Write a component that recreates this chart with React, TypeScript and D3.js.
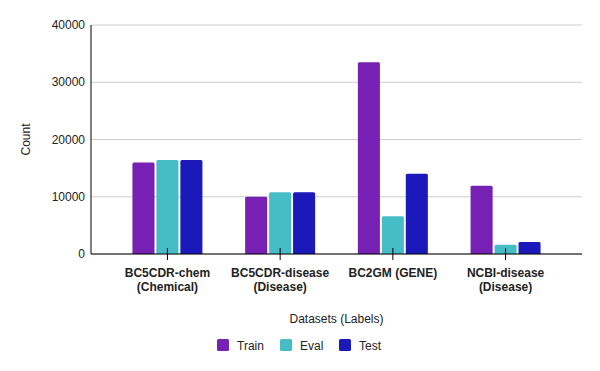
import * as d3 from 'd3';

const categories = [
  ['BC5CDR-chem', '(Chemical)'],
  ['BC5CDR-disease', '(Disease)'],
  ['BC2GM (GENE)'],
  ['NCBI-disease', '(Disease)'],
];
const seriesNames = ['Train', 'Eval', 'Test'];
const trainValues = [16000, 10000, 33500, 11900];
const evalValues = [16400, 10800, 6600, 1600];
const testValues = [16400, 10800, 14000, 2100];
const yTicks = [0, 10000, 20000, 30000, 40000];
const colors = ['#7620b4', '#46bdc6', '#1b19b9'];

const width = 600;
const height = 371;
const margin = { top: 25, right: 18, bottom: 117, left: 91 };

export default function App() {
  const series = [trainValues, evalValues, testValues];
  const keys = categories.map((c) => c.join(' '));

  const x = d3.scaleBand()
    .domain(keys)
    .range([margin.left, width - margin.right])
    .paddingInner(0)
    .paddingOuter(0.178);
  const inner = d3.scaleBand()
    .domain(seriesNames)
    .range([0, 70])
    .paddingInner(0.08);
  const y = d3.scaleLinear()
    .domain([0, 40000])
    .range([height - margin.bottom, margin.top]);

  const groupOffset = (x.bandwidth() - 70) / 2;
  const font = 'Arial, "Liberation Sans", sans-serif';
  const baseY = y(0);

  // top-rounded bar path
  const barPath = (x0: number, w: number, top: number) => {
    const r = 1.5;
    return `M${x0},${baseY}V${top + r}Q${x0},${top} ${x0 + r},${top}H${x0 + w - r}Q${x0 + w},${top} ${x0 + w},${top + r}V${baseY}Z`;
  };

  const legendItems = [
    { name: 'Train', x: 217 },
    { name: 'Eval', x: 280 },
    { name: 'Test', x: 339 },
  ];

  return (
    <svg width={width} height={height} style={{ position: 'absolute', left: 0, top: 0, background: '#fff' }} fontFamily={font}>
      {/* gridlines */}
      {yTicks.map((t) => (
        <line key={t} x1={margin.left} x2={width - margin.right} y1={y(t)} y2={y(t)} stroke="#cccccc" strokeWidth={1} />
      ))}
      {yTicks.map((t) => (
        <text key={'l' + t} x={margin.left - 6} y={y(t)} dy="0.35em" textAnchor="end" fontSize={12} fill="#222">
          {t}
        </text>
      ))}

      {/* bars */}
      {keys.map((k, i) => (
        <g key={k}>
          {seriesNames.map((s, j) => {
            const bx = (x(k) as number) + groupOffset + (inner(s) as number);
            return (
              <path key={s} d={barPath(bx, inner.bandwidth(), y(series[j][i]))} fill={colors[j]} />
            );
          })}
        </g>
      ))}

      {/* axes */}
      <line x1={margin.left} x2={margin.left} y1={margin.top} y2={baseY} stroke="#000" strokeWidth={1} />
      <line x1={margin.left} x2={width - margin.right} y1={baseY} y2={baseY} stroke="#000" strokeWidth={1} />
      {keys.map((k, i) => {
        const cx = (x(k) as number) + x.bandwidth() / 2;
        return (
          <g key={'t' + k}>
            <line x1={cx} x2={cx} y1={baseY - 6} y2={baseY + 6} stroke="#000" strokeWidth={1} />
            {categories[i].map((line, li) => (
              <text key={li} x={cx} y={277 + li * 14} textAnchor="middle" fontSize={12} fontWeight="bold" fill="#222">
                {line}
              </text>
            ))}
          </g>
        );
      })}

      {/* axis titles */}
      <text x={(margin.left + width - margin.right) / 2} y={323} textAnchor="middle" fontSize={12} fill="#222">
        Datasets (Labels)
      </text>
      <text transform={`translate(30,${(margin.top + baseY) / 2}) rotate(-90)`} textAnchor="middle" fontSize={12} fill="#222">
        Count
      </text>

      {/* legend */}
      {legendItems.map((d, i) => (
        <g key={d.name}>
          <rect x={d.x} y={339} width={12} height={12} rx={1.5} fill={colors[i]} />
          <text x={d.x + 20} y={349.5} fontSize={12} fill="#222">{d.name}</text>
        </g>
      ))}
    </svg>
  );
}
